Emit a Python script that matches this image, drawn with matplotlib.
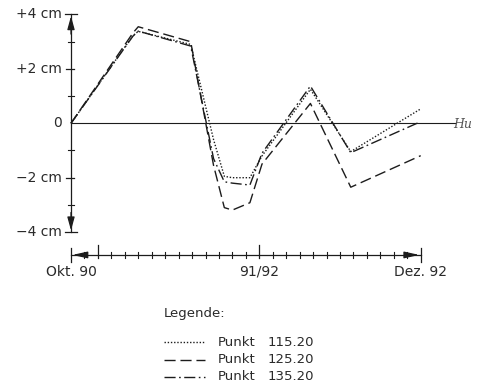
import matplotlib
matplotlib.use("Agg")
import matplotlib.pyplot as plt
from matplotlib.lines import Line2D

# months after Okt. 90
months = [0, 4.6, 5.0, 8.9, 10.6, 11.4, 12.0, 13.3, 14.2, 17.8, 20.8, 26.0]
# settlement in cm
p115 = [0, 3.22, 3.38, 2.90, -0.60, -1.95, -2.00, -2.00, -1.20, 1.25, -1.04, 0.53]
p125 = [0, 3.32, 3.55, 3.00, -1.55, -3.10, -3.19, -2.92, -1.50, 0.73, -2.35, -1.19]
p135 = [0, 3.20, 3.39, 2.84, -1.30, -2.15, -2.20, -2.27, -1.10, 1.37, -1.08, 0.06]

names = ["Punkt", "Punkt", "Punkt"]
numbers = ["115.20", "125.20", "135.20"]
styles = [(0, (1, 1.3)), (0, (8, 3.5)), (0, (8, 2.5, 1.2, 2.5))]

y_ticks = [4, 2, 0, -2, -4]
y_labels = ["+4 cm", "+2 cm", "0", "\u22122 cm", "\u22124 cm"]
y_minor = [3, 1, -1, -3]

x_ticks = [0, 14, 26]
x_labels = ["Okt. 90", "91/92", "Dez. 92"]
x_big = [2, 14]
x_small = [m for m in range(1, 26) if m not in x_big]

c = "#1c1c1c"
tc = "#2a2a2a"

# pixel layout of the scan -> data coords
X0, SX = 71.0, 13.45
Y0, SY = 123.3, 27.2
W, H = 481, 389

fig = plt.figure(figsize=(W / 100, H / 100), dpi=100)
ax = fig.add_axes([0, 0, 1, 1])
ax.axis("off")
ax.set_xlim((0 - X0) / SX, (W - X0) / SX)
ax.set_ylim((Y0 - H) / SY, Y0 / SY)

# data
for vals, ls in zip([p115, p125, p135], styles):
    ax.plot(months, vals, color=c, lw=1.0, linestyle=ls)

# vertical axis with end bars and arrows
ax.plot([0, 0], [-4, 4], color=c, lw=0.9)
for e in (4, -4):
    ax.plot([-0.45, 0.45], [e, e], color=c, lw=0.9)
    ax.annotate("", xy=(0, e * 0.985), xytext=(0, e * 0.82),
                arrowprops=dict(arrowstyle="-|>,head_length=0.8,head_width=0.22",
                                color=c, lw=0.9, shrinkA=0, shrinkB=0))
for t, lab in zip(y_ticks, y_labels):
    if abs(t) != 4 and t != 0:
        ax.plot([-0.35, 0.25], [t, t], color=c, lw=0.9)
    ax.text(-0.67, t, lab, ha="right", va="center", fontsize=10, color=tc)
for t in y_minor:
    ax.plot([-0.2, 0.25], [t, t], color=c, lw=0.8)

# zero line and handwritten mark
ax.plot([0, 28.6], [0, 0], color=c, lw=0.8)
ax.text(28.4, -0.05, "Hu", fontsize=9, style="italic", family="DejaVu Serif",
        color="#555555", ha="left", va="center")

# time axis
yt = -4.84
ax.plot([0, 26], [yt, yt], color=c, lw=0.9)
for e in (0, 26):
    ax.plot([e, e], [yt + 0.27, yt - 0.27], color=c, lw=0.9)
ax.annotate("", xy=(0.1, yt), xytext=(1.1, yt),
            arrowprops=dict(arrowstyle="-|>,head_length=0.9,head_width=0.2",
                            color=c, lw=0.9, shrinkA=0, shrinkB=0))
ax.annotate("", xy=(25.9, yt), xytext=(24.9, yt),
            arrowprops=dict(arrowstyle="-|>,head_length=0.9,head_width=0.2",
                            color=c, lw=0.9, shrinkA=0, shrinkB=0))
for m in x_big:
    ax.plot([m, m], [yt + 0.37, yt - 0.11], color=c, lw=0.9)
for m in x_small:
    ax.plot([m, m], [yt + 0.1, yt - 0.11], color=c, lw=0.8)
for m, lab in zip(x_ticks, x_labels):
    ax.text(m, yt - 0.61, lab, ha="center", va="center", fontsize=10, color=tc)

# legend (hand placed like the scan)
def fx(px):
    return px / W

def fy(py):
    return 1 - py / H

fig.text(fx(164), fy(313), "Legende:", ha="left", va="center", fontsize=9.5, color=tc)
rows = [342, 359.5, 377]
for py, ls, nm, num in zip(rows, styles, names, numbers):
    fig.add_artist(Line2D([fx(164), fx(205)], [fy(py), fy(py)], color=c, lw=1.0,
                          linestyle=ls, transform=fig.transFigure))
    fig.text(fx(218), fy(py), nm, ha="left", va="center", fontsize=9.5, color=tc)
    fig.text(fx(268), fy(py), num, ha="left", va="center", fontsize=9.5, color=tc)

fig.savefig("out.png", dpi=100, facecolor="white")
